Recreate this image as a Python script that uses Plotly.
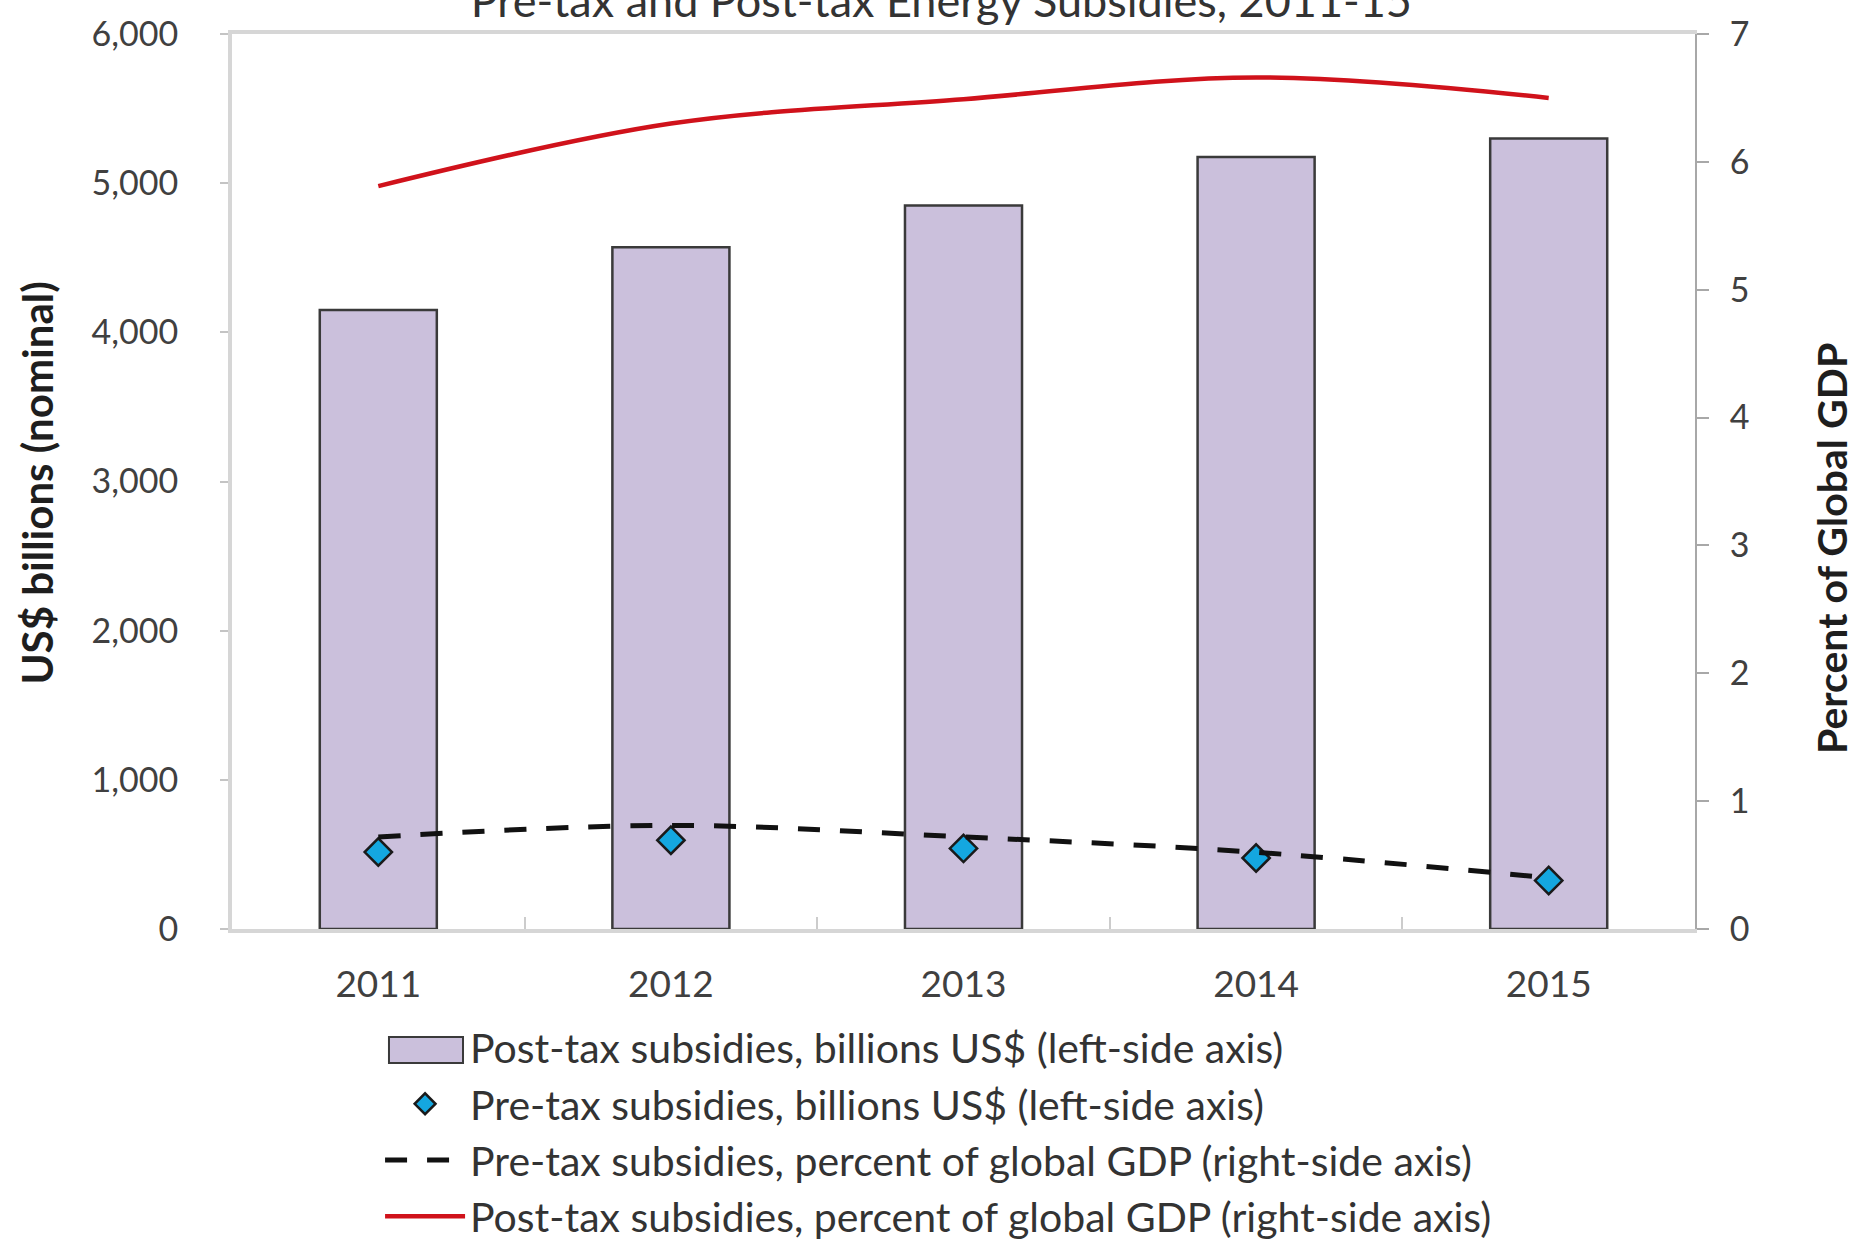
import plotly.graph_objects as go

# Energy subsidies, 2011-15
years = ["2011", "2012", "2013", "2014", "2015"]
post_tax_bn = [4150, 4570, 4850, 5175, 5300]
pre_tax_bn = [516, 595, 540, 476, 325]
pre_tax_pct = [0.72, 0.81, 0.72, 0.60, 0.40]
post_tax_pct = [5.81, 6.30, 6.49, 6.66, 6.50]

FONT = "Lato"
TEXT = "#404040"
BAR_FILL = "#CBC0DC"
BAR_EDGE = "#3a3a3a"

fig = go.Figure()

fig.add_trace(go.Bar(
    x=years, y=post_tax_bn, width=0.4, showlegend=False,
    marker=dict(color=BAR_FILL, line=dict(color=BAR_EDGE, width=2.5)),
))
# legend entry for the bars (the wide key box is drawn as a shape below)
fig.add_trace(go.Scatter(
    x=[None], y=[None], mode="lines",
    name="Post-tax subsidies, billions US$ (left-side axis)",
    line=dict(color="rgba(0,0,0,0)", width=2),
    legendgroup="a",
))
fig.add_trace(go.Scatter(
    x=years, y=pre_tax_bn, mode="markers",
    name="Pre-tax subsidies, billions US$ (left-side axis)",
    marker=dict(symbol="diamond", size=21, color="#14A7E0",
                line=dict(color="#1a1a1a", width=2.5)),
    legendgroup="b",
))
fig.add_trace(go.Scatter(
    x=years, y=pre_tax_pct, mode="lines", yaxis="y2", line_shape="spline",
    name="Pre-tax subsidies, percent of global GDP (right-side axis)",
    line=dict(color="#111111", width=5, dash="22px,20px"),
    legendgroup="c",
))
fig.add_trace(go.Scatter(
    x=years, y=post_tax_pct, mode="lines", yaxis="y2", line_shape="spline",
    name="Post-tax subsidies, percent of global GDP (right-side axis)",
    line=dict(color="#D0121B", width=4.5),
    legendgroup="d",
))

# key box for the bar series in the legend
fig.add_shape(type="rect", xref="paper", yref="paper",
              x0=0.1073, x1=0.1579, y0=-0.1207, y1=-0.1497,
              fillcolor=BAR_FILL, line=dict(color=BAR_EDGE, width=2))

# axis titles
fig.add_annotation(text="<b>US$ billions (nominal)</b>", textangle=-90,
                   xref="paper", yref="paper", x=-0.1336, y=0.4983,
                   xanchor="center", yanchor="middle",
                   showarrow=False, font=dict(size=42, color="#1e1e1e"))
fig.add_annotation(text="<b>Percent of Global GDP</b>", textangle=-90,
                   xref="paper", yref="paper", x=1.0936, y=0.4257,
                   xanchor="center", yanchor="middle",
                   showarrow=False, font=dict(size=41, color="#1e1e1e"))

fig.update_layout(
    width=1864, height=1247,
    margin=dict(l=232, r=169, t=34, b=318, autoexpand=False),
    paper_bgcolor="white", plot_bgcolor="white",
    font=dict(family=FONT, size=36, color=TEXT),
    title=dict(text="Pre-tax and Post-tax Energy Subsidies, 2011-15",
               x=0.505, xanchor="center", y=0.9864, yanchor="bottom",
               yref="container", font=dict(size=45, color="#333333")),
    showlegend=True,
    legend=dict(orientation="v", xref="container", x=0.2039, xanchor="left",
                yref="container", y=0.1866, yanchor="top",
                traceorder="grouped", tracegroupgap=0,
                font=dict(size=41, color="#333333"), itemwidth=80,
                bgcolor="rgba(0,0,0,0)"),
    xaxis=dict(type="category", range=[-0.5, 4.5], showgrid=False, automargin=False,
               showline=True, linecolor="#d6d6d6", linewidth=4, mirror=True,
               ticks="inside", tickson="boundaries", ticklen=12, tickcolor="#cccccc",
               tickwidth=2, ticklabelstandoff=20, tickangle=0, tickfont=dict(size=37)),
    yaxis=dict(range=[0, 6000], dtick=1000, tickformat=",", showgrid=False,
               automargin=False,
               showline=True, linecolor="#d6d6d6", linewidth=4, zeroline=False,
               ticks="outside", ticklen=8, tickcolor="#c4c4c4", tickwidth=2,
               ticklabelstandoff=35, tickfont=dict(size=34)),
    yaxis2=dict(range=[0, 7], dtick=1, overlaying="y", side="right", showgrid=False,
                automargin=False,
                showline=True, linecolor="#a8a8a8", linewidth=2, zeroline=False,
                ticks="outside", ticklen=12, tickcolor="#a8a8a8", tickwidth=2,
                ticklabelstandoff=14, tickfont=dict(size=34)),
)

# drop the browser's default page margin so the figure sits at the window corner
fig.write_html("out.html", config={"displayModeBar": False},
               post_script="document.body.style.margin = '0px';")
